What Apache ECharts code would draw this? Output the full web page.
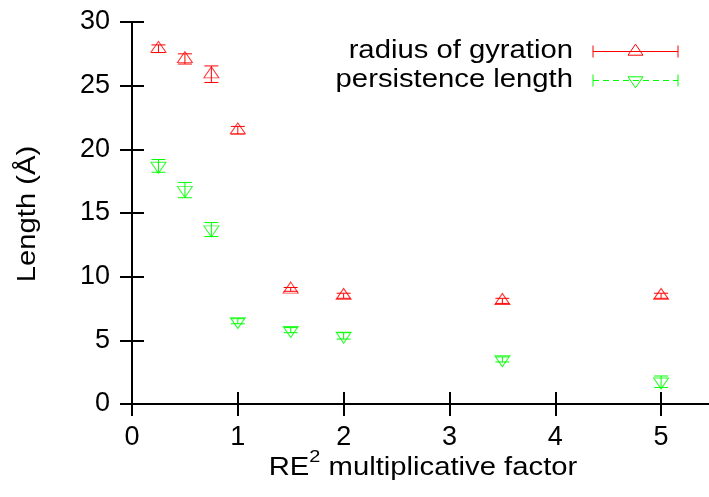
<!DOCTYPE html>
<html>
<head>
<meta charset="utf-8">
<script src="https://cdn.jsdelivr.net/npm/echarts@6/dist/echarts.min.js"></script>
<style>
  html, body { margin: 0; padding: 0; background: #ffffff; }
  #chart { width: 709px; height: 497px; }
</style>
</head>
<body>
<div id="chart"></div>
<script>
// RE^2 scaling factors and the two measured lengths (Å) with their errors
const factors = [0.25, 0.5, 0.75, 1, 1.5, 2, 3.5, 5];
const gyration = [27.9, 27.1, 25.9, 21.5, 9.0, 8.5, 8.1, 8.5];
const gyrationErr = [0.3, 0.4, 0.65, 0.3, 0.15, 0.2, 0.2, 0.2];
const persistence = [18.7, 16.8, 13.7, 6.5, 5.8, 5.35, 3.5, 1.75];
const persistenceErr = [0.5, 0.6, 0.55, 0.2, 0.2, 0.25, 0.2, 0.45];

// axis ticks
const xTicks = [0, 1, 2, 3, 4, 5];
const yTicks = [0, 5, 10, 15, 20, 25, 30];
const xMax = 5.5;

const seriesNames = ['radius of gyration', 'persistence length'];
const RED = '#ff0000';
const GREEN = '#00ff00';
const FONT = '"Liberation Sans", Arial, Helvetica, sans-serif';
const STRETCH = 1.17;   // labels are set slightly wide

const chart = echarts.init(document.getElementById('chart'), null, { renderer: 'canvas' });

function errorBars(color) {
  return function (params, api) {
    const x = api.value(0), y = api.value(1), e = api.value(2);
    const hi = api.coord([x, y + e]);
    const lo = api.coord([x, y - e]);
    const hw = 7;
    const st = { stroke: color, lineWidth: 1 };
    return {
      type: 'group',
      children: [
        { type: 'line', shape: { x1: hi[0], y1: hi[1], x2: lo[0], y2: lo[1] }, style: st },
        { type: 'line', shape: { x1: hi[0] - hw, y1: hi[1], x2: hi[0] + hw, y2: hi[1] }, style: st },
        { type: 'line', shape: { x1: lo[0] - hw, y1: lo[1], x2: lo[0] + hw, y2: lo[1] }, style: st }
      ]
    };
  };
}

const frameAxisLine = { show: true, lineStyle: { color: '#000', width: 2 } };
const innerTick = { show: true, inside: true, length: 12, lineStyle: { color: '#000', width: 2 } };
const tickFont = { color: '#000', fontSize: 27, fontFamily: FONT };

// legend sample: error-bar line with caps and a marker in the middle
function legendEntry(y, label, color, dashed, down) {
  const x1 = 593, x2 = 678, xm = 635.5, cap = 6;
  const st = { stroke: color, lineWidth: 1, lineDash: dashed ? [6, 4] : null, fill: null };
  const tri = down
    ? [[xm - 7.5, y - 3.7], [xm + 7.5, y - 3.7], [xm, y + 7.3]]
    : [[xm - 7.5, y + 3.7], [xm + 7.5, y + 3.7], [xm, y - 7.3]];
  return [
    {
      type: 'text', x: 573, y: y, scaleX: STRETCH,
      style: { text: label, x: 0, y: 0, align: 'right', verticalAlign: 'middle',
               font: '25px ' + FONT, fill: '#000' }
    },
    { type: 'line', shape: { x1: x1, y1: y, x2: x2, y2: y }, style: st },
    { type: 'line', shape: { x1: x1, y1: y - cap, x2: x1, y2: y + cap }, style: { stroke: color, lineWidth: 1 } },
    { type: 'line', shape: { x1: x2, y1: y - cap, x2: x2, y2: y + cap }, style: { stroke: color, lineWidth: 1 } },
    { type: 'polygon', shape: { points: tri }, style: { stroke: color, lineWidth: 1, fill: null } }
  ];
}

const option = {
  backgroundColor: '#ffffff',
  animation: false,
  // the frame runs a little past the right edge of the page
  grid: { left: 132, top: 22, width: 582, height: 382, containLabel: false, outerBoundsMode: 'none' },
  xAxis: [
    {
      type: 'value', position: 'bottom',
      min: xTicks[0], max: xMax, interval: xTicks[1] - xTicks[0],
      axisLine: frameAxisLine, axisTick: innerTick, splitLine: { show: false },
      axisLabel: Object.assign({ margin: 20, showMaxLabel: false,
        formatter: v => (xTicks.indexOf(v) >= 0 ? String(v) : '') }, tickFont)
    },
    {
      type: 'value', position: 'top',
      min: xTicks[0], max: xMax, interval: xTicks[1] - xTicks[0],
      axisLine: frameAxisLine, axisTick: innerTick, splitLine: { show: false },
      axisLabel: { show: false }
    }
  ],
  yAxis: [
    {
      type: 'value', position: 'left',
      min: yTicks[0], max: yTicks[yTicks.length - 1], interval: yTicks[1] - yTicks[0],
      axisLine: frameAxisLine, axisTick: innerTick, splitLine: { show: false },
      axisLabel: Object.assign({ margin: 22 }, tickFont)
    },
    {
      type: 'value', position: 'right',
      min: yTicks[0], max: yTicks[yTicks.length - 1], interval: yTicks[1] - yTicks[0],
      axisLine: frameAxisLine, axisTick: innerTick, splitLine: { show: false },
      axisLabel: { show: false }
    }
  ],
  series: [
    {
      name: seriesNames[0] + ' error', type: 'custom', renderItem: errorBars(RED),
      data: factors.map((f, i) => [f, gyration[i], gyrationErr[i]]), z: 3, silent: true
    },
    {
      name: seriesNames[1] + ' error', type: 'custom', renderItem: errorBars(GREEN),
      data: factors.map((f, i) => [f, persistence[i], persistenceErr[i]]), z: 3, silent: true
    },
    {
      name: seriesNames[0], type: 'scatter',
      symbol: 'triangle', symbolSize: [15, 11], symbolOffset: [0, -1.83],
      itemStyle: { color: 'rgba(0,0,0,0)', borderColor: RED, borderWidth: 1 },
      data: factors.map((f, i) => [f, gyration[i]]), z: 4
    },
    {
      name: seriesNames[1], type: 'scatter',
      symbol: 'triangle', symbolSize: [15, 11], symbolRotate: 180, symbolOffset: [0, 1.83],
      itemStyle: { color: 'rgba(0,0,0,0)', borderColor: GREEN, borderWidth: 1 },
      data: factors.map((f, i) => [f, persistence[i]]), z: 4
    }
  ],
  graphic: [
    {
      type: 'text', x: 423, y: 468, scaleX: STRETCH,
      style: {
        text: 'RE{sup|2} multiplicative factor',
        x: 0, y: 0, align: 'center', verticalAlign: 'middle',
        font: '25px ' + FONT, fill: '#000',
        rich: { sup: { fontSize: 17, fontFamily: FONT, fill: '#000', padding: [0, 0, 22, 0] } }
      }
    },
    {
      type: 'text', x: 28, y: 214, rotation: Math.PI / 2, scaleX: STRETCH,
      style: { text: 'Length (Å)', x: 0, y: 0, align: 'center', verticalAlign: 'middle',
               font: '25px ' + FONT, fill: '#000' }
    }
  ]
    .concat(legendEntry(51.5, seriesNames[0], RED, false, false))
    .concat(legendEntry(80.5, seriesNames[1], GREEN, true, true))
};

chart.setOption(option);
</script>
</body>
</html>
